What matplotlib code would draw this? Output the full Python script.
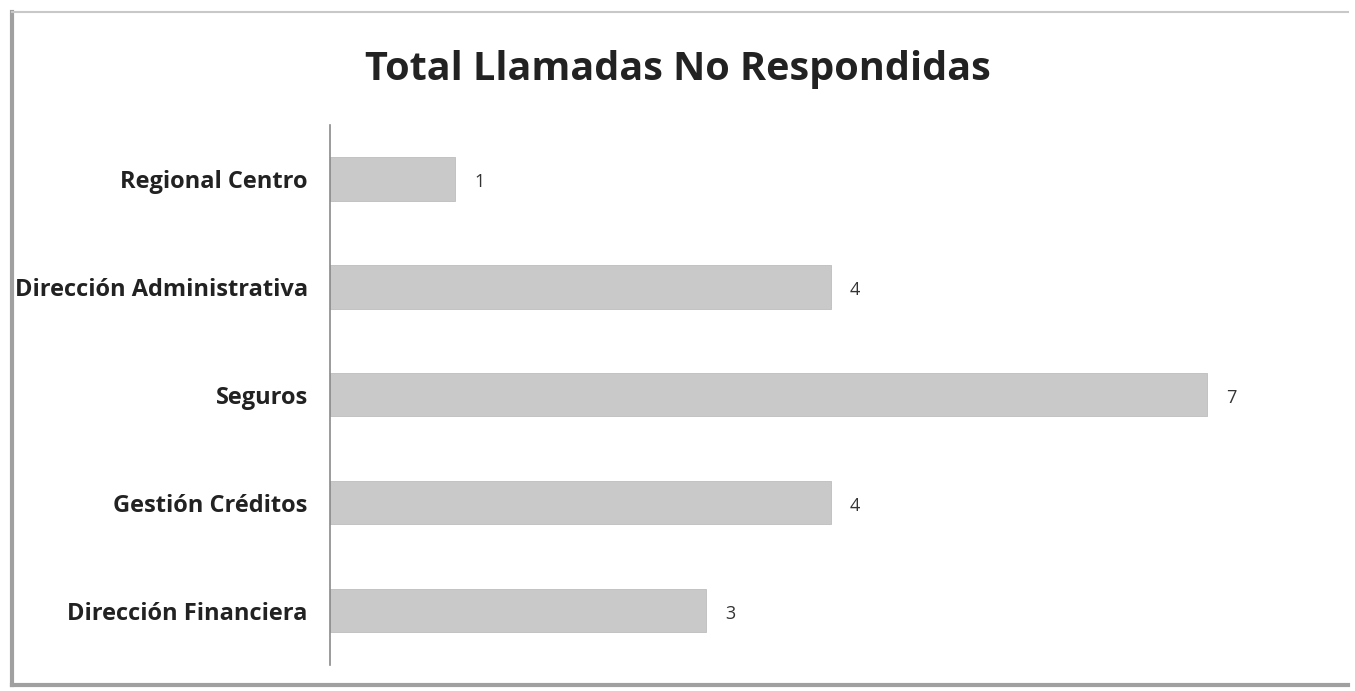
import matplotlib.pyplot as plt
from matplotlib.lines import Line2D

# Datos del gráfico (de arriba hacia abajo)
categorias = ['Regional Centro', 'Dirección Administrativa', 'Seguros',
              'Gestión Créditos', 'Dirección Financiera']
valores = [1, 4, 7, 4, 3]

plt.rcParams['font.family'] = ['Open Sans', 'DejaVu Sans']

fig = plt.figure(figsize=(13.55, 6.91), dpi=100)
ax = fig.add_axes([0.2435, 0.038, 0.74, 0.781])

pos = list(range(len(categorias)))
ax.barh(pos, valores, height=0.4, color='#c9c9c9', edgecolor='#bdbdbd', linewidth=0.6)

for p, v in zip(pos, valores):
    ax.text(v + 0.15, p + 0.03, str(v), va='center', ha='left', fontsize=13, color='#333333')

ax.set_yticks(pos)
ax.set_yticklabels(categorias, fontsize=17, fontweight='bold', color='#222222')
ax.tick_params(axis='y', length=0, pad=16)
ax.set_xticks([])
ax.set_xlim(0, 8)
ax.set_ylim(4.5, -0.5)

for s in ['top', 'right', 'bottom']:
    ax.spines[s].set_visible(False)
ax.spines['left'].set_color('#8a8a8a')
ax.spines['left'].set_linewidth(1.2)

fig.text(0.5, 0.9, 'Total Llamadas No Respondidas', ha='center', va='center',
         fontsize=28.5, fontweight='bold', color='#222222')

# marco del gráfico (izquierda, arriba, abajo)
marco = dict(transform=fig.transFigure, color='#a0a0a0', linewidth=3)
fig.lines.append(Line2D([0.009, 0.009], [0.008, 0.982], **marco))
fig.lines.append(Line2D([0.009, 0.995], [0.982, 0.982], color='#c8c8c8', linewidth=1.5,
                        transform=fig.transFigure))
fig.lines.append(Line2D([0.009, 0.995], [0.008, 0.008], **marco))

fig.savefig('out.png', dpi=100, facecolor='white')
